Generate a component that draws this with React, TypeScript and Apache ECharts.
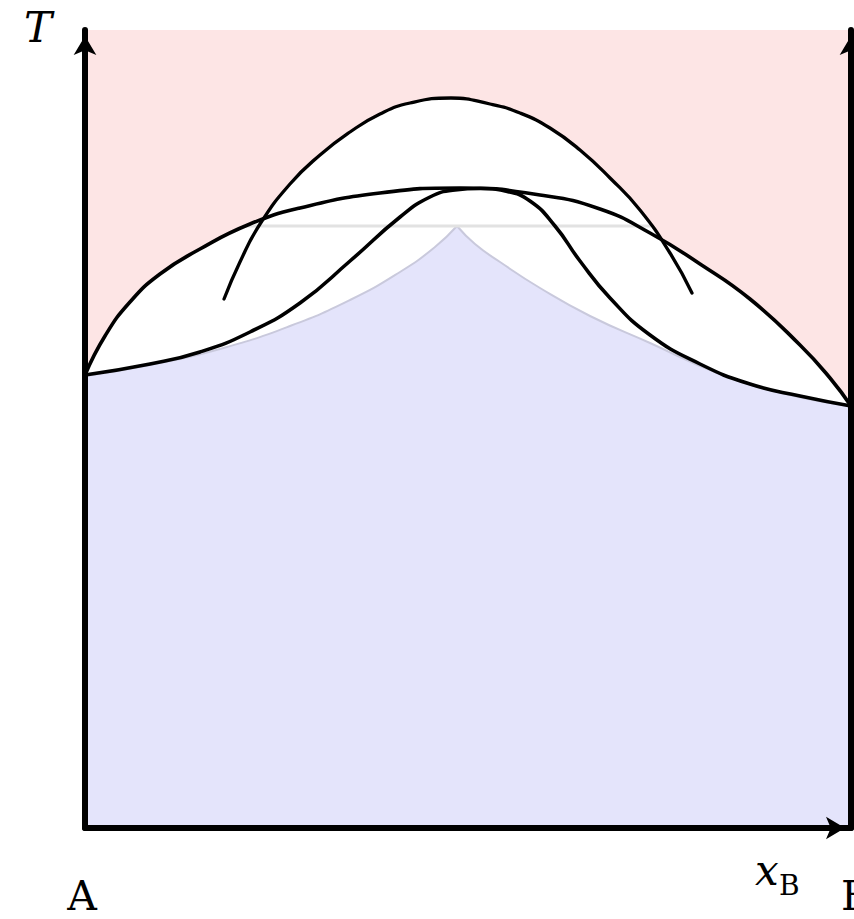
import React, { useEffect, useRef } from 'react';
import * as echarts from 'echarts';

// Outer (upper) lens curve
const outerCurve: [number, number][] = [
  [0, 0.56625], [0.0261, 0.615], [0.0587, 0.6575], [0.0979, 0.6925], [0.1501, 0.72375],
  [0.2154, 0.755], [0.2807, 0.775], [0.3851, 0.79375], [0.4896, 0.8], [0.594, 0.79125],
  [0.6723, 0.77375], [0.7376, 0.74375], [0.8029, 0.705], [0.8681, 0.66125], [0.9334, 0.60375],
  [0.9726, 0.5625], [1, 0.5275],
];

// Lower bell-shaped curve
const bellCurve: [number, number][] = [
  [0, 0.56625], [0.0849, 0.58], [0.1501, 0.595], [0.2154, 0.62], [0.2807, 0.65625],
  [0.346, 0.70875], [0.4113, 0.76375], [0.4504, 0.78875], [0.483, 0.7975], [0.5157, 0.799375],
  [0.5483, 0.79625], [0.5809, 0.78375], [0.6136, 0.7525], [0.6462, 0.70875], [0.6854, 0.6625],
  [0.7376, 0.61625], [0.8029, 0.58], [0.8681, 0.555], [0.9334, 0.54], [1, 0.5275],
];

// Dome (miscibility gap)
const domeCurve: [number, number][] = [
  [0.1815, 0.66125], [0.2023, 0.7075], [0.2285, 0.755], [0.2676, 0.805], [0.3068, 0.84125],
  [0.346, 0.87], [0.3851, 0.8925], [0.4243, 0.90625], [0.4778, 0.9125], [0.5287, 0.905],
  [0.5679, 0.89375], [0.607, 0.875], [0.6462, 0.8475], [0.6854, 0.8125], [0.7245, 0.7725],
  [0.7637, 0.71875], [0.7924, 0.66875],
];

// Blue region boundary (two branches meeting at a cusp)
const blueLeft: [number, number][] = [
  [0, 0.565], [0.0849, 0.57875], [0.1762, 0.59875], [0.2676, 0.6275], [0.346, 0.66],
  [0.4112, 0.695], [0.4569, 0.72625], [0.4856, 0.7525],
];
const blueRight: [number, number][] = [
  [0.4856, 0.7525], [0.5091, 0.73], [0.5418, 0.7075], [0.594, 0.675], [0.6593, 0.64],
  [0.7376, 0.60625], [0.829, 0.5675], [0.9204, 0.54125], [1, 0.5275],
];
// Blue patches hiding the seam between the two branch fills
const seamPatchA: [number, number][] = [[0.44, 0.7], [0.53, 0.7]];
const seamPatchB: [number, number][] = [[0.472, 0.73], [0.498, 0.73]];

// Horizontal grey line
const greyLine: [number, number][] = [[0.21, 0.7525], [0.7376, 0.7525]];

const PINK = '#fde5e5';
const BLUE = '#e4e4fb';
const SERIF = '"DejaVu Serif", serif';

export default function App() {
  const ref = useRef<HTMLDivElement>(null);
  useEffect(() => {
    if (!ref.current) return;
    const chart = echarts.init(ref.current, null, { renderer: 'svg' });
    const axisLine = () => ({
      show: true,
      onZero: false,
      symbol: ['none', 'arrow'],
      symbolSize: [17, 19],
      symbolOffset: [0, -6],
      lineStyle: { color: '#000', width: 6 },
    });
    const hidden = {
      z: 10,
      axisTick: { show: false },
      axisLabel: { show: false },
      splitLine: { show: false },
    };
    const fill = (data: [number, number][], color: string) => ({
      type: 'line',
      data,
      smooth: 0.5,
      symbol: 'none',
      silent: true,
      lineStyle: { width: 0, opacity: 0 },
      areaStyle: { color, opacity: 1 },
    });
    const stroke = (data: [number, number][], color: string, width: number, smooth = 0.5) => ({
      type: 'line',
      data,
      smooth,
      symbol: 'none',
      silent: true,
      lineStyle: { color, width, cap: 'round' },
    });
    chart.setOption({
      animation: false,
      grid: {
        left: 85, right: 3, top: 30, bottom: 91,
        show: true, backgroundColor: PINK, borderWidth: 0,
      },
      xAxis: { type: 'value', min: 0, max: 1, axisLine: axisLine(), ...hidden },
      yAxis: [
        { type: 'value', min: 0, max: 0.9975, position: 'left', axisLine: axisLine(), ...hidden },
        { type: 'value', min: 0, max: 0.9975, position: 'right', axisLine: axisLine(), ...hidden },
      ],
      series: [
        fill(outerCurve, '#ffffff'),
        fill(domeCurve, '#ffffff'),
        { ...fill(blueLeft, BLUE), lineStyle: { color: '#c9c9dc', width: 2 } },
        { ...fill(blueRight, BLUE), lineStyle: { color: '#c9c9dc', width: 2 } },
        { ...fill(seamPatchA, BLUE), smooth: false },
        { ...fill(seamPatchB, BLUE), smooth: false },
        stroke(greyLine, '#e2e2e2', 3, 0),
        stroke(outerCurve, '#000', 3.6),
        stroke(bellCurve, '#000', 3.6),
        stroke(domeCurve, '#000', 3.3),
      ],
      graphic: [
        { type: 'text', x: 38, y: 27, style: { text: 'T', font: `italic 42px ${SERIF}`, fill: '#000', align: 'center', verticalAlign: 'middle' } },
        { type: 'text', x: 755, y: 870, style: { text: 'x', font: `italic 42px ${SERIF}`, fill: '#000', align: 'left', verticalAlign: 'middle' } },
        { type: 'text', x: 779, y: 885, style: { text: 'B', font: `28px ${SERIF}`, fill: '#000', align: 'left', verticalAlign: 'middle' } },
        { type: 'text', x: 82, y: 896, style: { text: 'A', font: `41px ${SERIF}`, fill: '#000', align: 'center', verticalAlign: 'middle' } },
        { type: 'text', x: 841, y: 896, style: { text: 'B', font: `41px ${SERIF}`, fill: '#000', align: 'left', verticalAlign: 'middle' } },
      ],
    });
    return () => chart.dispose();
  }, []);
  return <div ref={ref} style={{ position: 'absolute', left: 0, top: 0, width: 854, height: 919 }} />;
}
